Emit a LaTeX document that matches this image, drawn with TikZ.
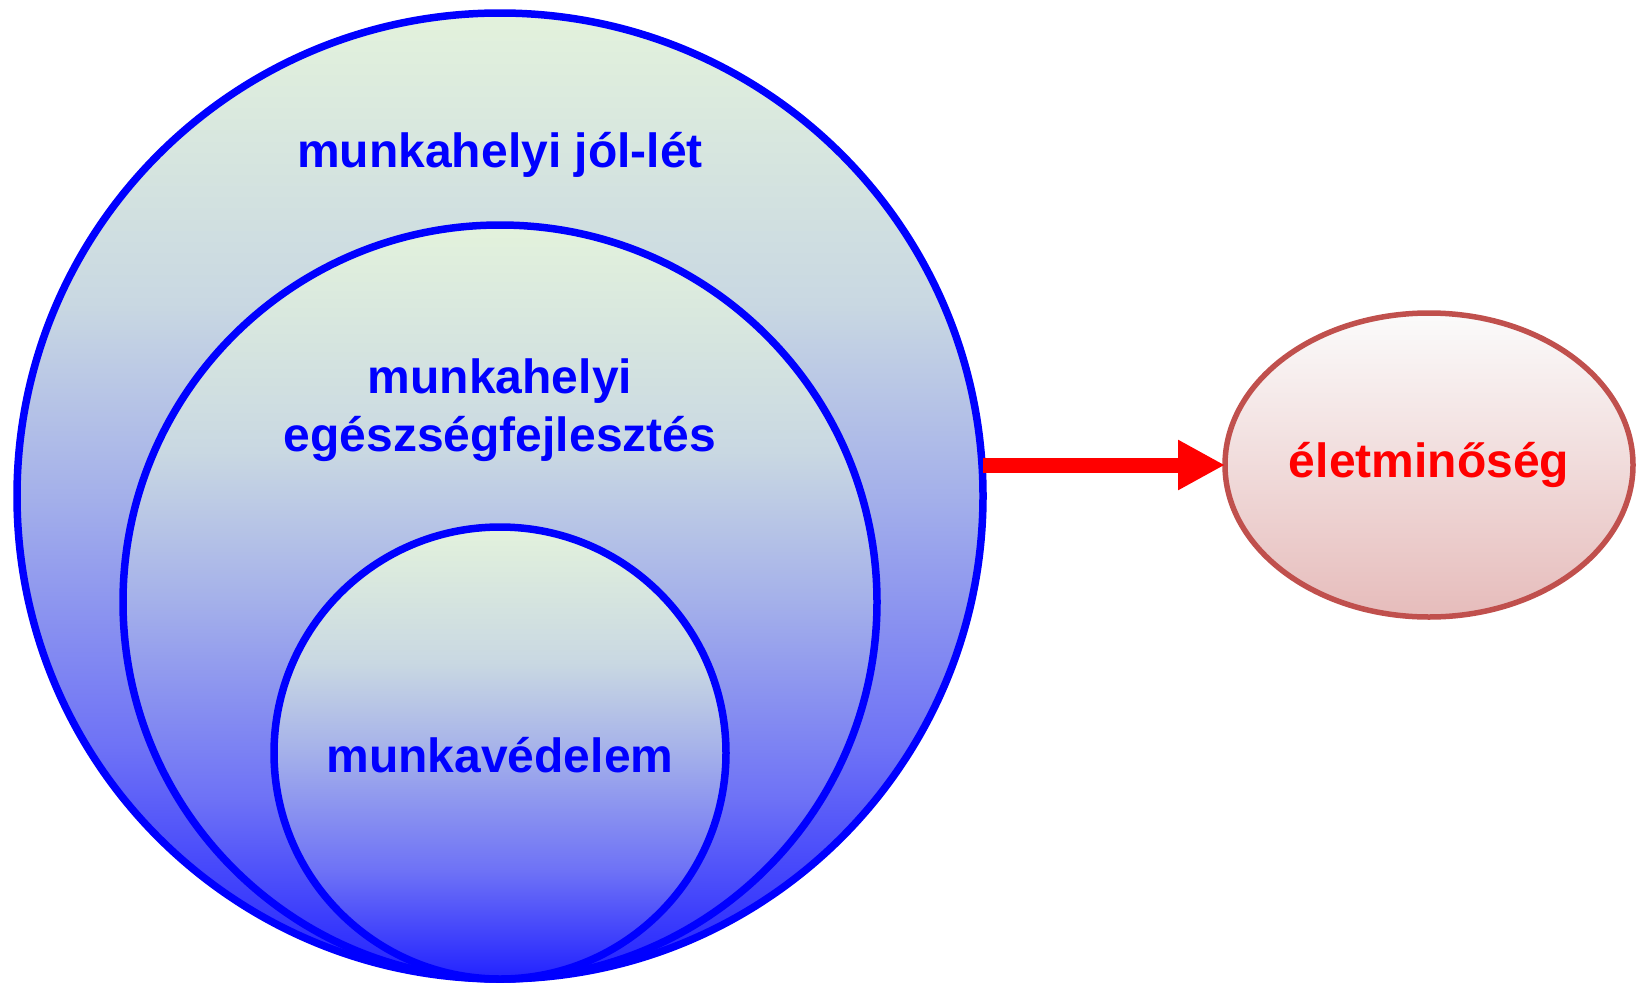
\documentclass[tikz,border=0pt]{standalone}
\usepackage{fontspec}
\setmainfont{Liberation Sans}
\usetikzlibrary{shapes.geometric,arrows.meta}
\definecolor{cgreen}{HTML}{E3F2DC}
\definecolor{cgray}{HTML}{C9D8E2}
\definecolor{cmid}{HTML}{A4B0EA}
\definecolor{clow}{HTML}{6E72F6}
\definecolor{cbot}{HTML}{2222FF}
\definecolor{ptop}{HTML}{FBFBFB}
\definecolor{pbot}{HTML}{E6BCBB}
\definecolor{pborder}{HTML}{C0504D}
\pgfdeclareverticalshading{circshade}{100bp}{
  color(0bp)=(cbot); color(25bp)=(cbot); color(37bp)=(clow);
  color(50bp)=(cmid); color(60bp)=(cgray); color(75bp)=(cgreen); color(100bp)=(cgreen)}
\tikzset{
  ring/.style={circle, draw=blue, line width=7.5pt, shading=circshade, inner sep=0pt, outer sep=0pt},
  bluetext/.style={text=blue, font=\fontsize{48}{58}\selectfont\bfseries, align=center, anchor=base, inner sep=0pt},
  oval/.style={ellipse, draw=pborder, line width=5.5pt, top color=ptop, bottom color=pbot, inner sep=0pt, outer sep=0pt, minimum width=408pt, minimum height=304pt},
  redtext/.style={text=red, font=\fontsize{48}{57}\selectfont\bfseries, anchor=base, inner sep=0pt},
  bigarrow/.style={draw=red, line width=15pt, -{Triangle[length=47pt,width=47pt]}}
}
\begin{document}
\begin{tikzpicture}[x=1pt,y=-1pt]
\useasboundingbox (0,0) rectangle (1640,983);
\node[ring, minimum size=966pt] (big) at (500,496) {};
\node[ring, minimum size=754pt] (mid) at (500,602) {};
\node[ring, minimum size=452pt] (small) at (500,753) {};
\node[bluetext] (t1) at (500,167) {munkahelyi jól-lét};
\node[bluetext] (t2) at (500,451) {munkahelyi\\egészségfejlesztés};
\node[bluetext] (t3) at (500,772) {munkavédelem};
\node[oval] (ell) at (1429,465) {};
\node[redtext] (t4) at (1429,477) {életminőség};
\draw[bigarrow] (big.east |- ell.west) -- (ell.west);
\end{tikzpicture}
\end{document}
